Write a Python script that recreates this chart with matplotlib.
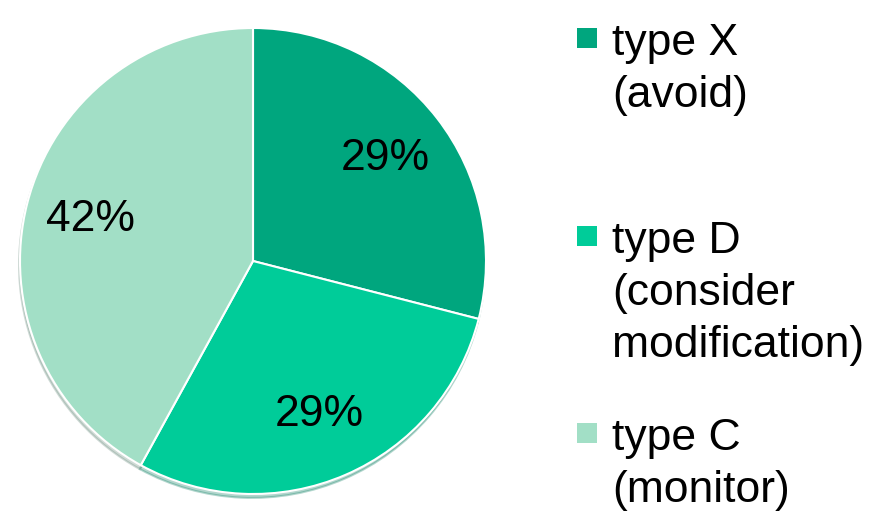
import matplotlib.pyplot as plt
from matplotlib.patches import Rectangle

plt.rcParams['font.family'] = ['Liberation Sans', 'DejaVu Sans']

labels = ["type X\n(avoid)", "type D\n(consider\nmodification)", "type C\n(monitor)"]
shares = [29, 29, 42]
colors = ["#00A67E", "#00CC99", "#A2DFC6"]

W, H = 885, 512
fig = plt.figure(figsize=(W / 100, H / 100), dpi=100)

# pie axes: centre (253, 261) px, radius 233 px
cx, cy, r = 253, 261, 233
ax = fig.add_axes([(cx - r) / W, (H - cy - r) / H, 2 * r / W, 2 * r / H])
ax.pie(shares, colors=colors, startangle=90, counterclock=False,
       autopct='%1.0f%%', pctdistance=0.72, radius=1,
       wedgeprops=dict(edgecolor='white', linewidth=1.5),
       textprops=dict(fontsize=32, color='black'),
       shadow=dict(ox=-0.003, oy=-0.012, shade=0.4, alpha=0.3))
ax.set_xlim(-1, 1)
ax.set_ylim(-1, 1)
ax.set_aspect('equal')
ax.axis('off')

# legend drawn by hand, one text per line
sq_x, sq_size = 577, 20
baselines = [55, 253, 450]
pitch = 52
for lab, col, base in zip(labels, colors, baselines):
    sq_top = base - 27
    fig.add_artist(Rectangle((sq_x / W, (H - sq_top - sq_size) / H),
                             sq_size / W, sq_size / H,
                             transform=fig.transFigure, facecolor=col,
                             edgecolor='none'))
    for i, line in enumerate(lab.split('\n')):
        fig.text(612 / W, (H - base - i * pitch) / H, line, fontsize=32,
                 va='baseline', ha='left')

fig.savefig('out.png', dpi=100)
